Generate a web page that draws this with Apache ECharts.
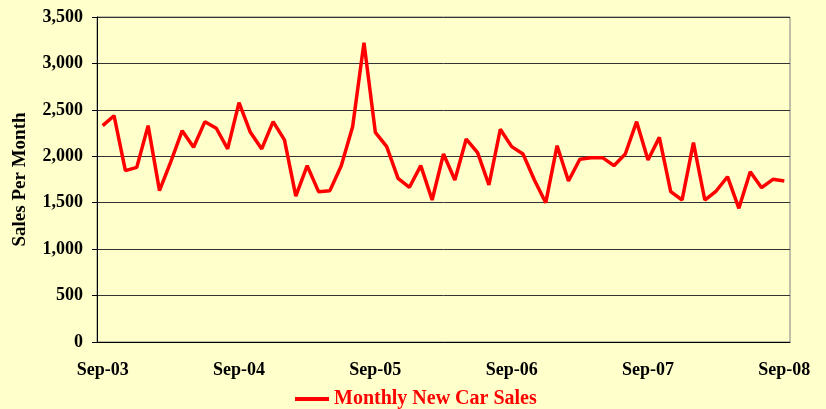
<!DOCTYPE html>
<html>
<head>
<meta charset="utf-8">
<script src="https://cdn.jsdelivr.net/npm/echarts@6/dist/echarts.min.js"></script>
<style>
  html, body { margin: 0; padding: 0; background: #ffffcc; }
  #chart { width: 826px; height: 409px; }
</style>
</head>
<body>
<div id="chart"></div>
<script>
// monthly new car sales, Sep-03 .. Sep-08
const sales = [
  2330, 2437, 1845, 1881, 2330, 1630, 1942, 2276, 2097, 2373, 2302, 2079,
  2577, 2258, 2079, 2373, 2176, 1572, 1899, 1619, 1630, 1899, 2319, 3224,
  2258, 2104, 1763, 1666, 1899, 1529, 2025, 1745, 2186, 2039, 1691, 2291,
  2104, 2025, 1745, 1500, 2114, 1734, 1968, 1985, 1985, 1899, 2025, 2373,
  1960, 2204, 1619, 1529, 2147, 1529, 1626, 1780, 1440, 1834, 1662, 1752,
  1734
];
const monthNames = ['Sep', 'Oct', 'Nov', 'Dec', 'Jan', 'Feb', 'Mar', 'Apr', 'May', 'Jun', 'Jul', 'Aug'];
const startYear = 2003;
const seriesName = 'Monthly New Car Sales';

// category labels like "Sep-03", "Oct-03", ...
const months = sales.map((_, i) => {
  const yr = startYear + Math.floor((i + 8) / 12);
  return monthNames[i % 12] + '-' + String(yr % 100).padStart(2, '0');
});

const font = '"Liberation Serif", "Times New Roman", serif';

var myChart = echarts.init(document.getElementById('chart'));

const option = {
  backgroundColor: '#ffffcc',
  animation: false,
  grid: {
    left: 97,
    right: 36,
    top: 17,
    bottom: 67,
    show: true,
    borderColor: '#808080',
    borderWidth: 1,
    backgroundColor: 'transparent'
  },
  legend: {
    data: [seriesName],
    icon: 'rect',
    left: 290,
    top: 384,
    itemWidth: 34,
    itemHeight: 4,
    textStyle: {
      fontFamily: font,
      fontWeight: 'bold',
      fontSize: 20,
      color: '#ff0000'
    }
  },
  xAxis: {
    type: 'category',
    data: months,
    boundaryGap: true,
    axisLine: { lineStyle: { color: '#000', width: 1 } },
    axisTick: { interval: 11, length: 5, lineStyle: { color: '#000' } },
    axisLabel: {
      interval: 11,
      margin: 19,
      fontFamily: font,
      fontWeight: 'bold',
      fontSize: 18,
      color: '#000'
    },
    splitLine: { show: false }
  },
  yAxis: {
    type: 'value',
    min: 0,
    max: 3500,
    interval: 500,
    name: 'Sales Per Month',
    nameLocation: 'middle',
    nameGap: 67,
    nameTextStyle: {
      fontFamily: font,
      fontWeight: 'bold',
      fontSize: 19,
      color: '#000'
    },
    axisLine: { show: true, lineStyle: { color: '#000', width: 1 } },
    axisTick: { show: true, length: 5, lineStyle: { color: '#000' } },
    axisLabel: {
      margin: 14,
      fontFamily: font,
      fontWeight: 'bold',
      fontSize: 18,
      color: '#000',
      formatter: v => v.toLocaleString('en-US')
    },
    splitLine: { lineStyle: { color: '#333', width: 1 } }
  },
  series: [
    {
      name: seriesName,
      type: 'line',
      data: sales,
      symbol: 'none',
      lineStyle: { color: '#ff0000', width: 3.5 },
      itemStyle: { color: '#ff0000' }
    }
  ]
};

myChart.setOption(option);
</script>
</body>
</html>
